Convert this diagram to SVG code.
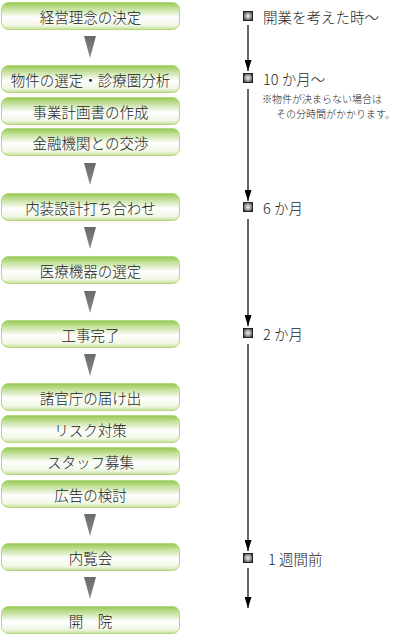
<svg xmlns="http://www.w3.org/2000/svg" width="401" height="635" viewBox="0 0 401 635">
<defs>
<linearGradient id="boxg" x1="0" y1="0" x2="0" y2="1">
<stop offset="0" stop-color="#94c651"/>
<stop offset="0.18" stop-color="#bcdc8e"/>
<stop offset="0.55" stop-color="#ffffff"/>
<stop offset="0.85" stop-color="#f0f7e4"/>
<stop offset="1" stop-color="#c3df96"/>
</linearGradient>
<linearGradient id="trig" x1="0" y1="0" x2="0" y2="1">
<stop offset="0" stop-color="#6a6a6a"/>
<stop offset="1" stop-color="#8a8a8a"/>
</linearGradient>
<radialGradient id="sqg" cx="0.5" cy="0.5" r="0.6">
<stop offset="0" stop-color="#f0f0f0"/>
<stop offset="0.6" stop-color="#909090"/>
<stop offset="1" stop-color="#303030"/>
</radialGradient>
<marker id="ah" markerWidth="11" markerHeight="7" refX="11" refY="3.5" orient="auto" markerUnits="userSpaceOnUse" viewBox="0 0 11 7">
<path d="M0,0 L11,3.5 L0,7 Z" fill="#000"/>
</marker>
<style>
.box{fill:url(#boxg);stroke:#b4d67e;stroke-width:1}
.bt{font-family:"Noto Sans CJK JP","Noto Sans",sans-serif;font-weight:300;font-size:14.5px;fill:#222;text-anchor:middle;dominant-baseline:central}
.tri{fill:url(#trig)}
.sq{fill:url(#sqg);stroke:#222;stroke-width:1}
.rt{font-family:"Noto Sans CJK JP","Noto Sans",sans-serif;font-weight:300;font-size:14.5px;fill:#222;dominant-baseline:central}
.nt{font-family:"Noto Sans CJK JP","Noto Sans",sans-serif;font-weight:300;font-size:10px;fill:#222}
.ln{stroke:#000;stroke-width:1.2;fill:none}
</style>
</defs>
<g id="node-1"><rect class="box" x="1.5" y="2.5" width="178" height="27" rx="7"/><text class="bt" x="90.5" y="16">経営理念の決定</text></g>
<g id="node-2"><rect class="box" x="1.5" y="65.5" width="178" height="27" rx="7"/><text class="bt" x="90.5" y="79">物件の選定・診療圏分析</text></g>
<g id="node-3"><rect class="box" x="1.5" y="97.5" width="178" height="27" rx="7"/><text class="bt" x="90.5" y="111">事業計画書の作成</text></g>
<g id="node-4"><rect class="box" x="1.5" y="128.5" width="178" height="27" rx="7"/><text class="bt" x="90.5" y="142">金融機関との交渉</text></g>
<g id="node-5"><rect class="box" x="1.5" y="193.5" width="178" height="27" rx="7"/><text class="bt" x="90.5" y="207">内装設計打ち合わせ</text></g>
<g id="node-6"><rect class="box" x="1.5" y="256.5" width="178" height="27" rx="7"/><text class="bt" x="90.5" y="270">医療機器の選定</text></g>
<g id="node-7"><rect class="box" x="1.5" y="320.5" width="178" height="27" rx="7"/><text class="bt" x="90.5" y="334">工事完了</text></g>
<g id="node-8"><rect class="box" x="1.5" y="383.5" width="178" height="27" rx="7"/><text class="bt" x="90.5" y="397">諸官庁の届け出</text></g>
<g id="node-9"><rect class="box" x="1.5" y="415.5" width="178" height="27" rx="7"/><text class="bt" x="90.5" y="429">リスク対策</text></g>
<g id="node-10"><rect class="box" x="1.5" y="447.5" width="178" height="27" rx="7"/><text class="bt" x="90.5" y="461">スタッフ募集</text></g>
<g id="node-11"><rect class="box" x="1.5" y="480.5" width="178" height="27" rx="7"/><text class="bt" x="90.5" y="494">広告の検討</text></g>
<g id="node-12"><rect class="box" x="1.5" y="543.5" width="178" height="27" rx="7"/><text class="bt" x="90.5" y="557">内覧会</text></g>
<g id="node-13"><rect class="box" x="1.5" y="606.5" width="178" height="27" rx="7"/><text class="bt" x="90.5" y="620">開　院</text></g>
<g id="flow-arrows">
<polygon class="tri" points="84,36 96,36 90,58"/>
<polygon class="tri" points="84,163 96,163 90,185"/>
<polygon class="tri" points="84,227 96,227 90,249"/>
<polygon class="tri" points="84,291 96,291 90,313"/>
<polygon class="tri" points="84,354 96,354 90,376"/>
<polygon class="tri" points="84,514 96,514 90,536"/>
<polygon class="tri" points="84,577 96,577 90,599"/>
</g>
<g id="timeline-connectors">
<line class="ln" x1="248" y1="25" x2="248" y2="71" marker-end="url(#ah)"/>
<line class="ln" x1="248" y1="89" x2="248" y2="201" marker-end="url(#ah)"/>
<line class="ln" x1="248" y1="219" x2="248" y2="326" marker-end="url(#ah)"/>
<line class="ln" x1="248" y1="344" x2="248" y2="551" marker-end="url(#ah)"/>
<line class="ln" x1="248" y1="568" x2="248" y2="608" marker-end="url(#ah)"/>
</g>
<g id="t1"><rect class="sq" x="243.5" y="11.5" width="9" height="9"/><text class="rt" x="263" y="16">開業を考えた時〜</text></g>
<g id="t2"><rect class="sq" x="243.5" y="73.5" width="9" height="9"/><text class="rt" x="263" y="78">10 か月〜</text>
<text class="nt" x="262" y="103">※物件が決まらない場合は</text>
<text class="nt" x="276" y="118">その分時間がかかります。</text></g>
<g id="t3"><rect class="sq" x="243.5" y="202.5" width="9" height="9"/><text class="rt" x="263" y="207">6 か月</text></g>
<g id="t4"><rect class="sq" x="243.5" y="328.5" width="9" height="9"/><text class="rt" x="263" y="333">2 か月</text></g>
<g id="t5"><rect class="sq" x="243.5" y="553.5" width="9" height="9"/><text class="rt" x="268" y="558">1 週間前</text></g>
</svg>
